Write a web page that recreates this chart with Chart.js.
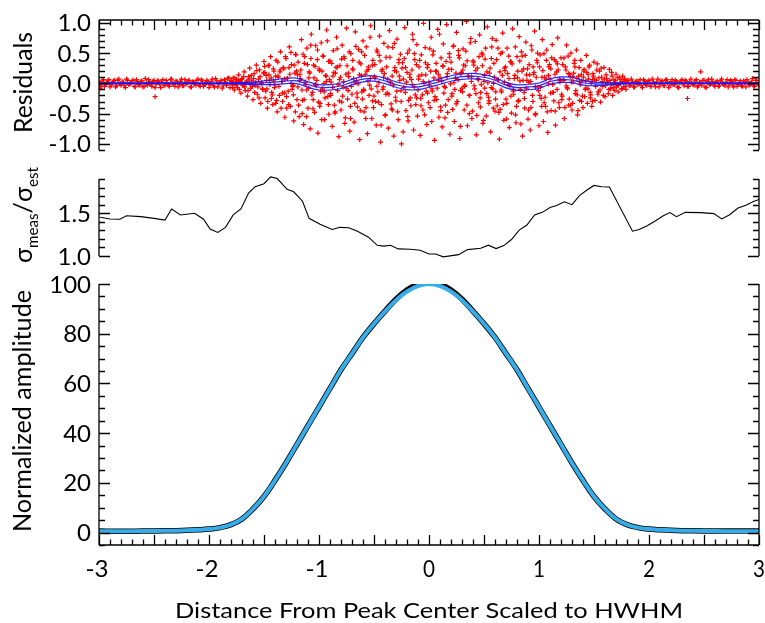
<!DOCTYPE html>
<html>
<head>
<meta charset="utf-8">
<script src="https://cdn.jsdelivr.net/npm/chart.js@4.4.0/dist/chart.umd.min.js"></script>
<style>
html, body { margin: 0; padding: 0; background: #fff; }
#wrap { position: relative; width: 765px; height: 623px; }
#wrap canvas { position: absolute; left: 0; top: 0; }
</style>
</head>
<body>
<div id="wrap">
<canvas id="resid" width="765" height="623"></canvas>
<canvas id="sigma" width="765" height="623"></canvas>
<canvas id="amp" width="765" height="623"></canvas>
</div>
<script>
// tick labels
const xTicks = [-3, -2, -1, 0, 1, 2, 3];
const residTicks = [-1.0, -0.5, 0.0, 0.5, 1.0];
const sigmaTicks = [1.0, 1.5];
const ampTicks = [0, 20, 40, 60, 80, 100];

// residuals (red crosses)
const residPoints = [
  // wings, left
  [-3.00,0.03],[-2.98,-0.05],[-2.96,0.06],[-2.94,-0.02],[-2.92,0.04],[-2.90,-0.06],[-2.88,0.01],[-2.86,0.05],[-2.84,-0.04],[-2.82,0.07],
  [-2.80,-0.03],[-2.78,0.02],[-2.76,-0.07],[-2.74,0.05],[-2.72,-0.01],[-2.70,0.04],[-2.68,-0.05],[-2.66,0.06],[-2.64,-0.02],[-2.62,0.03],
  [-2.60,-0.06],[-2.58,0.08],[-2.56,-0.03],[-2.54,0.02],[-2.52,-0.05],[-2.50,0.05],[-2.48,-0.01],[-2.46,0.04],[-2.44,-0.07],[-2.42,0.06],
  [-2.40,-0.03],[-2.38,0.01],[-2.36,-0.05],[-2.34,0.07],[-2.32,-0.02],[-2.30,0.04],[-2.28,-0.06],[-2.26,0.03],[-2.24,-0.04],[-2.22,0.06],
  [-2.20,-0.01],[-2.18,0.05],[-2.16,-0.06],[-2.14,0.02],[-2.12,-0.03],[-2.10,0.07],[-2.08,-0.05],[-2.06,0.04],[-2.04,-0.02],[-2.02,0.05],
  [-2.00,-0.07],[-1.98,0.03],[-1.96,-0.04],[-1.94,0.08],[-1.92,-0.06],[-1.90,0.02],[-1.88,-0.08],[-1.86,0.06],[-1.84,-0.03],[-1.82,0.09],
  [-2.99,-0.02],[-2.97,0.04],[-2.95,-0.05],[-2.93,0.01],[-2.91,0.06],[-2.89,-0.03],[-2.87,0.03],[-2.85,-0.06],[-2.83,0.05],[-2.81,-0.01],
  [-2.79,0.02],[-2.77,-0.04],[-2.75,0.07],[-2.73,-0.02],[-2.71,0.0],[-2.69,0.05],[-2.67,-0.06],[-2.65,0.03],[-2.63,-0.03],[-2.61,0.04],
  [-2.59,-0.05],[-2.57,0.01],[-2.55,0.06],[-2.53,-0.02],[-2.51,0.03],[-2.49,-0.07],[-2.47,0.04],[-2.45,-0.01],[-2.43,0.02],[-2.41,-0.04],
  [-2.39,0.05],[-2.37,-0.03],[-2.35,0.06],[-2.33,0.0],[-2.31,-0.05],[-2.29,0.03],[-2.27,-0.02],[-2.25,0.07],[-2.23,-0.04],[-2.21,0.01],
  [-2.19,0.04],[-2.17,-0.06],[-2.15,0.02],[-2.13,-0.01],[-2.11,0.05],[-2.09,-0.03],[-2.07,0.06],[-2.05,-0.05],[-2.03,0.0],[-2.01,0.03],
  [-1.99,-0.02],[-1.97,0.07],[-1.95,-0.06],[-1.93,0.04],[-1.91,-0.01],[-1.89,0.05],[-1.87,-0.04],[-1.85,0.02],[-1.83,0.08],[-1.81,-0.07],
  [-2.99,-0.08],[-2.49,-0.22],
  // core, first pass
  [-1.80,0.05],[-1.79,-0.02],[-1.78,0.09],[-1.77,-0.11],[-1.76,0.01],[-1.75,0.06],[-1.74,-0.07],[-1.73,0.14],[-1.72,0.03],[-1.71,-0.16],
  [-1.70,0.08],[-1.69,-0.04],[-1.68,0.19],[-1.67,-0.12],[-1.66,0.02],[-1.65,-0.21],[-1.64,0.11],[-1.63,0.25],[-1.62,-0.08],[-1.61,0.04],
  [-1.60,-0.27],[-1.59,0.16],[-1.58,-0.03],[-1.57,0.3],[-1.56,-0.18],[-1.55,0.07],[-1.54,0.22],[-1.53,-0.33],[-1.52,0.01],[-1.51,-0.1],
  [-1.50,0.36],[-1.49,-0.24],[-1.48,0.13],[-1.47,-0.41],[-1.46,0.29],[-1.45,0.05],[-1.44,0.44],[-1.43,-0.15],[-1.42,-0.35],[-1.41,0.2],
  [-1.40,-0.02],[-1.39,0.38],[-1.38,-0.47],[-1.37,0.1],[-1.36,-0.2],[-1.35,0.52],[-1.34,0.03],[-1.33,-0.3],[-1.32,0.24],[-1.31,-0.56],
  [-1.30,0.41],[-1.29,0.08],[-1.28,-0.13],[-1.27,0.6],[-1.26,-0.38],[-1.25,0.31],[-1.24,-0.05],[-1.23,-0.62],[-1.22,0.17],[-1.21,0.47],
  [-1.20,-0.27],[-1.19,0.35],[-1.18,-0.55],[-1.17,0.08],[-1.16,0.72],[-1.15,-0.28],[-1.14,-0.68],[-1.13,0.44],[-1.12,-0.02],[-1.11,0.58],
  [-1.10,-0.41],[-1.09,0.19],[-1.08,-0.75],[-1.07,0.81],[-1.06,-0.15],[-1.05,0.3],[-1.04,-0.48],[-1.03,0.62],[-1.02,0.05],[-1.01,-0.82],
  [-1.00,0.24],[-0.99,-0.33],[-0.98,0.67],[-0.97,-0.09],[-0.96,0.45],[-0.95,-0.6],[-0.94,0.13],[-0.93,0.88],[-0.92,-0.22],[-0.91,-0.51],
  [-0.90,0.37],[-0.89,0.02],[-0.88,-0.71],[-0.87,0.54],[-0.86,-0.36],[-0.85,0.17],[-0.84,0.76],[-0.83,-0.12],[-0.82,-0.88],[-0.81,0.29],
  [-0.80,-0.44],[-0.79,0.63],[-0.78,-0.06],[-0.77,0.41],[-0.76,-0.57],[-0.75,0.91],[-0.74,-0.26],[-0.73,0.11],[-0.72,-0.79],[-0.71,0.49],
  [-0.70,-0.18],[-0.69,0.22],[-0.68,-0.64],[-0.67,0.85],[-0.66,0.04],[-0.65,-0.39],[-0.64,0.56],[-0.63,-0.93],[-0.62,0.32],[-0.61,-0.14],
  [-0.60,0.7],[-0.59,-0.47],[-0.58,0.15],[-0.57,0.6],[-0.56,-0.83],[-0.55,0.27],[-0.54,-0.03],[-0.53,0.95],[-0.52,-0.58],[-0.51,0.38],
  [-0.50,-0.21],[-0.49,0.09],[-0.48,-0.69],[-0.47,0.52],[-0.46,-0.31],[-0.45,0.78],[-0.44,-0.97],[-0.43,0.2],[-0.42,-0.1],[-0.41,0.66],
  [-0.40,-0.53],[-0.39,0.43],[-0.38,-0.16],[-0.37,-0.74],[-0.36,0.87],[-0.35,0.01],[-0.34,-0.42],[-0.33,0.59],[-0.32,-0.87],[-0.31,0.26],
  [-0.30,-0.29],[-0.29,0.73],[-0.28,-0.6],[-0.27,0.12],[-0.26,0.48],[-0.25,-1.0],[-0.24,0.34],[-0.23,-0.07],[-0.22,0.92],[-0.21,-0.45],
  [-0.20,0.18],[-0.19,-0.62],[-0.18,0.55],[-0.17,-0.24],[-0.16,0.06],[-0.15,0.81],[-0.14,-0.77],[-0.13,0.39],[-0.12,-0.35],[-0.11,0.64],
  [-0.10,-0.11],[-0.09,0.27],[-0.08,-0.86],[-0.07,0.47],[-0.06,-0.19],[-0.05,0.99],[-0.04,-0.52],[-0.03,0.14],[-0.02,-0.68],[-0.01,0.31],
  [0.00,0.02],[0.01,-0.4],[0.02,0.76],[0.03,-0.13],[0.04,0.53],[0.05,-0.94],[0.06,0.2],[0.07,-0.27],[0.08,0.89],[0.09,-0.56],
  [0.10,0.1],[0.11,0.42],[0.12,-0.72],[0.13,0.65],[0.14,-0.05],[0.15,-0.36],[0.16,0.97],[0.17,-0.48],[0.18,0.23],[0.19,-0.84],
  [0.20,0.35],[0.21,-0.17],[0.22,0.61],[0.23,-0.63],[0.24,0.08],[0.25,0.84],[0.26,-0.3],[0.27,0.46],[0.28,-0.91],[0.29,0.16],
  [0.30,-0.08],[0.31,0.57],[0.32,-0.44],[0.33,0.29],[0.34,1.02],[0.35,-0.7],[0.36,0.11],[0.37,-0.2],[0.38,0.74],[0.39,-0.58],
  [0.40,0.37],[0.41,-0.04],[0.42,0.69],[0.43,-0.85],[0.44,0.25],[0.45,-0.32],[0.46,0.8],[0.47,-0.15],[0.48,0.5],[0.49,-0.66],
  [0.50,0.03],[0.51,0.4],[0.52,-0.54],[0.53,0.93],[0.54,-0.23],[0.55,0.17],[0.56,-0.8],[0.57,0.6],[0.58,-0.09],[0.59,0.33],
  [0.60,-0.46],[0.61,0.71],[0.62,-0.37],[0.63,0.06],[0.64,-0.92],[0.65,0.49],[0.66,-0.14],[0.67,0.83],[0.68,-0.61],[0.69,0.21],
  [0.70,-0.26],[0.71,0.58],[0.72,-0.02],[0.73,-0.73],[0.74,0.36],[0.75,-0.49],[0.76,0.9],[0.77,-0.18],[0.78,0.13],[0.79,-0.65],
  [0.80,0.44],[0.81,-0.3],[0.82,0.77],[0.83,-0.1],[0.84,0.52],[0.85,-0.87],[0.86,0.24],[0.87,-0.41],[0.88,0.68],[0.89,0.05],
  [0.90,-0.59],[0.91,0.31],[0.92,-0.77],[0.93,0.62],[0.94,-0.2],[0.95,0.15],[0.96,0.86],[0.97,-0.5],[0.98,0.38],[0.99,-0.06],
  [1.00,-0.7],[1.01,0.47],[1.02,-0.25],[1.03,0.72],[1.04,-0.63],[1.05,0.1],[1.06,-0.38],[1.07,0.55],[1.08,-0.81],[1.09,0.27],
  [1.10,0.07],[1.11,-0.45],[1.12,0.64],[1.13,-0.15],[1.14,0.39],[1.15,-0.69],[1.16,0.19],[1.17,0.75],[1.18,-0.32],[1.19,0.02],
  [1.20,0.42],[1.21,-0.21],[1.22,0.06],[1.23,-0.58],[1.24,0.27],[1.25,0.63],[1.26,-0.09],[1.27,-0.36],[1.28,0.15],[1.29,0.5],
  [1.30,-0.44],[1.31,0.02],[1.32,0.33],[1.33,-0.17],[1.34,0.55],[1.35,-0.52],[1.36,0.12],[1.37,-0.28],[1.38,0.38],[1.39,0.04],
  [1.40,-0.4],[1.41,0.23],[1.42,-0.1],[1.43,0.46],[1.44,-0.33],[1.45,0.07],[1.46,0.3],[1.47,-0.19],[1.48,-0.38],[1.49,0.16],
  [1.50,0.35],[1.51,-0.28],[1.52,0.05],[1.53,0.32],[1.54,-0.14],[1.55,0.2],[1.56,-0.31],[1.57,0.1],[1.58,-0.05],[1.59,0.26],
  [1.60,-0.22],[1.61,0.14],[1.62,0.02],[1.63,-0.17],[1.64,0.23],[1.65,-0.09],[1.66,0.18],[1.67,-0.2],[1.68,0.06],[1.69,-0.12],
  [1.70,0.15],[1.71,-0.03],[1.72,-0.14],[1.73,0.1],[1.74,0.01],[1.75,-0.09],[1.76,0.12],[1.77,-0.06],[1.78,0.07],[1.79,-0.1],
  [1.80,0.04],
  // core, second pass
  [-1.795,0.03],[-1.785,-0.07],[-1.775,0.01],[-1.765,0.09],[-1.755,-0.04],[-1.745,-0.01],[-1.735,0.05],[-1.725,-0.1],[-1.715,0.02],[-1.705,0.06],
  [-1.695,-0.03],[-1.685,0.11],[-1.675,-0.06],[-1.665,0.0],[-1.655,0.04],[-1.645,-0.12],[-1.635,0.07],[-1.625,-0.02],[-1.615,0.13],[-1.605,-0.05],
  [-1.595,0.08],[-1.585,-0.15],[-1.575,0.02],[-1.565,0.21],[-1.555,-0.06],[-1.545,-0.24],[-1.535,0.11],[-1.525,0.0],[-1.515,-0.09],[-1.505,0.17],
  [-1.495,0.28],[-1.485,-0.13],[-1.475,0.05],[-1.465,-0.3],[-1.455,0.14],[-1.445,-0.02],[-1.435,0.09],[-1.425,-0.19],[-1.415,0.24],[-1.405,-0.07],
  [-1.395,0.12],[-1.385,-0.28],[-1.375,0.35],[-1.365,-0.05],[-1.355,0.19],[-1.345,-0.41],[-1.335,0.03],[-1.325,0.26],[-1.315,-0.16],[-1.305,0.44],
  [-1.295,-0.22],[-1.285,0.08],[-1.275,-0.35],[-1.265,0.15],[-1.255,0.51],[-1.245,-0.1],[-1.235,-0.03],[-1.225,0.3],[-1.215,-0.47],[-1.205,0.2],
  [-1.195,0.14],[-1.185,-0.36],[-1.175,0.05],[-1.165,0.22],[-1.155,-0.11],[-1.145,0.48],[-1.135,-0.27],[-1.125,0.02],[-1.115,-0.55],[-1.105,0.31],
  [-1.095,-0.08],[-1.085,0.17],[-1.075,0.63],[-1.065,-0.19],[-1.055,-0.42],[-1.045,0.09],[-1.035,0.28],[-1.025,-0.04],[-1.015,0.39],[-1.005,-0.31],
  [-0.995,0.21],[-0.985,-0.13],[-0.975,-0.6],[-0.965,0.45],[-0.955,0.0],[-0.945,-0.24],[-0.935,0.12],[-0.925,0.7],[-0.915,-0.35],[-0.905,0.06],
  [-0.895,-0.17],[-0.885,0.33],[-0.875,-0.07],[-0.865,0.18],[-0.855,-0.49],[-0.845,0.26],[-0.835,0.57],[-0.825,-0.02],[-0.815,-0.29],[-0.805,0.1],
  [-0.795,0.4],[-0.785,-0.21],[-0.775,0.03],[-0.765,-0.66],[-0.755,0.15],[-0.745,0.29],[-0.735,-0.12],[-0.725,0.52],[-0.715,-0.38],[-0.705,-0.05],
  [-0.695,0.24],[-0.685,0.08],[-0.675,-0.33],[-0.665,0.61],[-0.655,-0.16],[-0.645,-0.01],[-0.635,0.35],[-0.625,-0.45],[-0.615,0.13],[-0.605,-0.26],
  [-0.595,-0.1],[-0.585,0.46],[-0.575,-0.58],[-0.565,0.2],[-0.555,0.04],[-0.545,-0.2],[-0.535,0.76],[-0.525,-0.09],[-0.515,0.3],[-0.505,-0.4],
  [-0.495,0.11],[-0.485,-0.3],[-0.475,0.55],[-0.465,-0.14],[-0.455,0.01],[-0.445,0.37],[-0.435,-0.69],[-0.425,0.23],[-0.415,-0.06],[-0.405,0.16],
  [-0.395,-0.52],[-0.385,0.27],[-0.375,0.07],[-0.365,-0.18],[-0.355,0.43],[-0.345,-0.34],[-0.335,0.12],[-0.325,-0.03],[-0.315,0.66],[-0.305,-0.23],
  [-0.295,0.19],[-0.285,-0.47],[-0.275,0.34],[-0.265,0.05],[-0.255,-0.12],[-0.245,0.25],[-0.235,-0.8],[-0.225,0.41],[-0.215,-0.15],[-0.205,0.02],
  [-0.195,0.5],[-0.185,-0.28],[-0.175,0.1],[-0.165,-0.37],[-0.155,0.22],[-0.145,0.72],[-0.135,-0.06],[-0.125,-0.19],[-0.115,0.31],[-0.105,-0.54],
  [-0.095,0.07],[-0.085,0.38],[-0.075,-0.25],[-0.065,0.14],[-0.055,-0.44],[-0.045,0.0],[-0.035,0.59],[-0.025,-0.13],[-0.015,0.26],[-0.005,-0.32],
  [0.005,-0.04],[0.015,0.2],[0.025,-0.63],[0.035,0.47],[0.045,0.09],[0.055,-0.22],[0.065,0.33],[0.075,-0.08],[0.085,0.15],[0.095,0.81],
  [0.105,-0.39],[0.115,0.04],[0.125,0.28],[0.135,-0.16],[0.145,-0.57],[0.155,0.36],[0.165,0.11],[0.175,-0.27],[0.185,0.49],[0.195,-0.01],
  [0.205,0.23],[0.215,-0.43],[0.225,0.62],[0.235,-0.1],[0.245,0.17],[0.255,-0.3],[0.265,0.06],[0.275,0.42],[0.285,-0.71],[0.295,0.18],
  [0.305,-0.14],[0.315,0.3],[0.325,-0.05],[0.335,0.53],[0.345,-0.36],[0.355,0.12],[0.365,-0.2],[0.375,0.67],[0.385,0.03],[0.395,-0.46],
  [0.405,0.35],[0.415,-0.09],[0.425,0.21],[0.435,-0.53],[0.445,0.08],[0.455,0.44],[0.465,-0.24],[0.475,-0.02],[0.485,0.29],[0.495,-0.61],
  [0.505,0.13],[0.515,0.58],[0.525,-0.17],[0.535,0.01],[0.545,-0.33],[0.555,0.25],[0.565,-0.07],[0.575,0.74],[0.585,-0.41],[0.595,0.1],
  [0.605,-0.26],[0.615,0.39],[0.625,0.06],[0.635,-0.48],[0.645,0.19],[0.655,-0.11],[0.665,0.51],[0.675,-0.35],[0.685,0.02],[0.695,0.27],
  [0.705,-0.59],[0.715,0.16],[0.725,0.45],[0.735,-0.04],[0.745,-0.21],[0.755,0.32],[0.765,-0.13],[0.775,0.08],[0.785,0.6],[0.795,-0.38],
  [0.805,0.09],[0.815,-0.28],[0.825,0.37],[0.835,-0.67],[0.845,0.2],[0.855,0.05],[0.865,-0.15],[0.875,0.46],[0.885,-0.08],[0.895,0.24],
  [0.905,-0.44],[0.915,0.14],[0.925,0.03],[0.935,0.55],[0.945,-0.3],[0.955,0.18],[0.965,-0.52],[0.975,0.1],[0.985,0.34],[0.995,-0.12],
  [1.005,0.27],[1.015,-0.06],[1.025,-0.38],[1.035,0.21],[1.045,0.49],[1.055,-0.23],[1.065,0.07],[1.075,-0.47],[1.085,0.13],[1.095,0.31],
  [1.105,-0.16],[1.115,0.42],[1.125,-0.02],[1.135,-0.29],[1.145,0.15],[1.155,0.36],[1.165,-0.1],[1.175,0.22],[1.185,-0.4],[1.195,0.05],
  [1.205,-0.18],[1.215,0.31],[1.225,0.05],[1.235,-0.4],[1.245,0.22],[1.255,-0.07],[1.265,0.45],[1.275,-0.26],[1.285,0.11],[1.295,0.02],
  [1.305,-0.33],[1.315,0.17],[1.325,0.38],[1.335,-0.12],[1.345,0.08],[1.355,-0.45],[1.365,0.26],[1.375,-0.02],[1.385,0.14],[1.395,-0.21],
  [1.405,0.1],[1.415,-0.22],[1.425,0.04],[1.435,0.18],[1.445,-0.09],[1.455,0.27],[1.465,-0.15],[1.475,0.01],[1.485,-0.3],[1.495,0.12],
  [1.505,0.06],[1.515,-0.05],[1.525,0.22],[1.535,-0.18],[1.545,0.09],[1.555,-0.11],[1.565,0.25],[1.575,0.03],[1.585,-0.2],[1.595,0.07],
  [1.605,-0.04],[1.615,0.08],[1.625,0.02],[1.635,-0.1],[1.645,0.05],[1.655,-0.02],[1.665,0.12],[1.675,-0.07],[1.685,0.01],[1.695,0.04],
  [1.705,-0.06],[1.715,0.09],[1.725,-0.03],[1.735,0.0],[1.745,0.06],[1.755,-0.09],[1.765,0.03],[1.775,0.07],[1.785,-0.05],[1.795,0.02],
  // core, third pass
  [-1.493,0.18],[-1.473,-0.09],[-1.453,0.3],[-1.433,-0.25],[-1.413,0.04],[-1.393,-0.33],[-1.373,0.12],[-1.353,0.22],[-1.333,-0.16],[-1.313,0.07],
  [-1.293,-0.41],[-1.273,0.26],[-1.253,0.0],[-1.233,-0.19],[-1.213,0.48],[-1.193,-0.06],[-1.173,0.15],[-1.153,-0.5],[-1.133,0.33],[-1.113,-0.11],
  [-1.093,0.09],[-1.073,0.41],[-1.053,-0.27],[-1.033,-0.02],[-1.013,0.55],[-0.993,-0.38],[-0.973,0.2],[-0.953,-0.14],[-0.933,0.03],[-0.913,0.36],
  [-0.893,-0.2],[-0.873,0.12],[-0.853,-0.47],[-0.833,0.27],[-0.813,0.06],[-0.793,-0.31],[-0.773,0.44],[-0.753,-0.08],[-0.733,0.17],[-0.713,-0.58],
  [-0.693,0.38],[-0.673,0.01],[-0.653,-0.23],[-0.633,0.14],[-0.613,0.52],[-0.593,-0.12],[-0.573,-0.4],[-0.553,0.23],[-0.533,0.08],[-0.513,-0.29],
  [-0.493,0.31],[-0.473,-0.05],[-0.453,0.46],[-0.433,-0.35],[-0.413,0.1],[-0.393,-0.18],[-0.373,0.6],[-0.353,0.02],[-0.333,-0.44],[-0.313,0.21],
  [-0.293,-0.13],[-0.273,0.39],[-0.253,-0.3],[-0.233,0.07],[-0.213,0.26],[-0.193,-0.55],[-0.173,0.15],[-0.153,-0.02],[-0.133,0.49],[-0.113,-0.24],
  [-0.093,0.12],[-0.073,-0.37],[-0.053,0.03],[-0.033,0.34],[-0.013,-0.16],[0.007,0.57],[0.027,-0.09],[0.047,-0.28],[0.067,0.2],[0.087,0.05],
  [0.107,-0.45],[0.127,0.29],[0.147,-0.07],[0.167,0.16],[0.187,0.43],[0.207,-0.21],[0.227,0.01],[0.247,-0.34],[0.267,0.54],[0.287,-0.12],
  [0.307,0.22],[0.327,-0.03],[0.347,0.37],[0.367,-0.5],[0.387,0.11],[0.407,0.3],[0.427,-0.17],[0.447,0.06],[0.467,-0.39],[0.487,0.47],
  [0.507,-0.08],[0.527,0.19],[0.547,-0.29],[0.567,0.41],[0.587,0.0],[0.607,-0.14],[0.627,0.58],[0.647,-0.43],[0.667,0.13],[0.687,0.25],
  [0.707,-0.33],[0.727,0.08],[0.747,0.35],[0.767,-0.1],[0.787,-0.52],[0.807,0.2],[0.827,0.04],[0.847,0.45],[0.867,-0.25],[0.887,0.14],
  [0.907,0.02],[0.927,-0.4],[0.947,0.27],[0.967,-0.06],[0.987,0.5],[1.007,-0.2],[1.027,0.1],[1.047,-0.32],[1.067,0.38],[1.087,-0.01],
  [1.107,0.24],[1.127,-0.15],[1.147,-0.46],[1.167,0.32],[1.187,0.07],[1.207,-0.27],[1.227,0.42],[1.247,-0.04],[1.267,0.16],[1.287,-0.36],
  [1.307,0.11],[1.327,0.27],[1.347,-0.19],[1.367,0.03],[1.387,-0.3],[1.407,0.2],[1.427,-0.08],[1.447,0.15],[1.467,-0.24],[1.487,0.06],
  // wings, right
  [1.82,-0.04],[1.84,0.07],[1.86,-0.06],[1.88,0.03],[1.90,-0.02],[1.92,0.06],[1.94,-0.07],[1.96,0.04],[1.98,-0.03],[2.00,0.05],
  [2.02,-0.05],[2.04,0.02],[2.06,-0.06],[2.08,0.07],[2.10,-0.01],[2.12,0.04],[2.14,-0.04],[2.16,0.06],[2.18,-0.07],[2.20,0.03],
  [2.22,-0.02],[2.24,0.05],[2.26,-0.06],[2.28,0.01],[2.30,0.06],[2.32,-0.04],[2.34,0.03],[2.36,-0.05],[2.38,0.07],[2.40,-0.02],
  [2.42,0.04],[2.44,-0.06],[2.46,0.02],[2.48,-0.03],[2.50,0.05],[2.52,-0.07],[2.54,0.06],[2.56,-0.01],[2.58,0.03],[2.60,-0.05],
  [2.62,0.04],[2.64,-0.04],[2.66,0.07],[2.68,-0.02],[2.70,0.02],[2.72,-0.06],[2.74,0.05],[2.76,-0.03],[2.78,0.06],[2.80,-0.05],
  [2.82,0.01],[2.84,-0.04],[2.86,0.04],[2.88,-0.06],[2.90,0.03],[2.92,-0.02],[2.94,0.08],[2.96,-0.05],[2.98,0.05],[3.00,-0.03],
  [1.81,0.05],[1.83,-0.03],[1.85,0.02],[1.87,-0.06],[1.89,0.04],[1.91,0.0],[1.93,-0.04],[1.95,0.06],[1.97,-0.02],[1.99,0.03],
  [2.01,-0.05],[2.03,0.07],[2.05,-0.01],[2.07,0.02],[2.09,-0.06],[2.11,0.04],[2.13,-0.03],[2.15,0.05],[2.17,0.01],[2.19,-0.04],
  [2.21,0.06],[2.23,-0.02],[2.25,0.03],[2.27,-0.07],[2.29,0.04],[2.31,-0.01],[2.33,0.05],[2.35,-0.05],[2.37,0.02],[2.39,0.0],
  [2.41,-0.03],[2.43,0.06],[2.45,-0.04],[2.47,0.01],[2.49,0.05],[2.51,-0.06],[2.53,0.03],[2.55,-0.02],[2.57,0.07],[2.59,-0.03],
  [2.61,0.02],[2.63,-0.05],[2.65,0.04],[2.67,0.0],[2.69,-0.04],[2.71,0.06],[2.73,-0.01],[2.75,0.03],[2.77,-0.06],[2.79,0.05],
  [2.81,-0.02],[2.83,0.04],[2.85,-0.05],[2.87,0.01],[2.89,0.06],[2.91,-0.03],[2.93,0.02],[2.95,-0.04],[2.97,0.05],[2.99,-0.01],
  [2.35,-0.25],[2.47,0.19]
];

// fitted residual model (blue) and its envelope
const bandX     = [-3, -1.8, -1.6, -1.5, -1.4, -1.3, -1.2, -1.1, -1.0, -0.9, -0.8, -0.7, -0.6, -0.5, -0.4, -0.3, -0.2, -0.1, 0, 0.1, 0.2, 0.3, 0.4, 0.5, 0.6, 0.7, 0.8, 0.9, 1.0, 1.1, 1.2, 1.3, 1.4, 1.5, 1.6, 1.8, 3];
const bandMid   = [0, 0, 0, 0.01, 0.02, 0.04, 0.04, -0.02, -0.065, -0.065, -0.04, 0.02, 0.07, 0.08, 0.04, -0.02, -0.06, -0.06, -0.02, 0.03, 0.08, 0.11, 0.12, 0.1, 0.05, -0.03, -0.07, -0.06, -0.04, 0.03, 0.06, 0.055, 0.01, -0.01, -0.01, 0, 0];
const bandUpper = [0.008, 0.008, 0.02, 0.04, 0.06, 0.085, 0.085, 0.025, -0.02, -0.02, 0.005, 0.065, 0.115, 0.125, 0.085, 0.025, -0.015, -0.015, 0.025, 0.075, 0.125, 0.155, 0.165, 0.145, 0.095, 0.015, -0.025, -0.015, 0.005, 0.075, 0.105, 0.1, 0.05, 0.02, 0.01, 0.008, 0.008];
const bandLower = [-0.008, -0.008, -0.02, -0.02, -0.02, -0.005, -0.005, -0.065, -0.11, -0.11, -0.085, -0.025, 0.025, 0.035, -0.005, -0.065, -0.105, -0.105, -0.065, -0.015, 0.035, 0.065, 0.075, 0.055, 0.005, -0.075, -0.115, -0.105, -0.085, -0.015, 0.015, 0.01, -0.03, -0.04, -0.03, -0.008, -0.008];

// sigma_meas / sigma_est
const sigmaX = [-2.99, -2.9, -2.81, -2.75, -2.62, -2.5, -2.4, -2.34, -2.26, -2.13, -2.05, -1.99, -1.92, -1.85, -1.78, -1.71, -1.64, -1.58, -1.5, -1.44, -1.38, -1.29, -1.23, -1.15, -1.09, -0.99, -0.88, -0.81, -0.73, -0.65, -0.55, -0.47, -0.41, -0.35, -0.28, -0.17, -0.08, 0.0, 0.06, 0.13, 0.27, 0.35, 0.47, 0.54, 0.61, 0.68, 0.75, 0.82, 0.89, 0.96, 1.03, 1.1, 1.16, 1.23, 1.3, 1.37, 1.44, 1.5, 1.57, 1.64, 1.85, 1.91, 1.98, 2.06, 2.13, 2.19, 2.25, 2.33, 2.47, 2.59, 2.66, 2.73, 2.81, 2.88, 2.95, 3.0];
const sigmaY = [1.453, 1.433, 1.43, 1.47, 1.46, 1.44, 1.42, 1.55, 1.48, 1.5, 1.43, 1.315, 1.275, 1.335, 1.48, 1.55, 1.735, 1.81, 1.845, 1.925, 1.905, 1.78, 1.75, 1.64, 1.44, 1.37, 1.31, 1.335, 1.33, 1.29, 1.22, 1.125, 1.115, 1.126, 1.083, 1.079, 1.067, 1.024, 1.024, 0.99, 1.016, 1.075, 1.09, 1.126, 1.087, 1.122, 1.193, 1.303, 1.362, 1.48, 1.51, 1.566, 1.59, 1.633, 1.6, 1.708, 1.775, 1.825, 1.81, 1.806, 1.29, 1.31, 1.35, 1.413, 1.47, 1.507, 1.46, 1.51, 1.507, 1.495, 1.433, 1.48, 1.56, 1.594, 1.637, 1.66];

// normalized amplitude: fitted profile (light blue) and measured (black)
const ampX     = [-3, -2.8, -2.6, -2.4, -2.2, -2.1, -2.0, -1.9, -1.8, -1.7, -1.6, -1.5, -1.4, -1.3, -1.2, -1.1, -1.0, -0.9, -0.8, -0.7, -0.6, -0.5, -0.4, -0.3, -0.2, -0.1, 0, 0.1, 0.2, 0.3, 0.4, 0.5, 0.6, 0.7, 0.8, 0.9, 1.0, 1.1, 1.2, 1.3, 1.4, 1.5, 1.6, 1.7, 1.8, 1.9, 2.0, 2.1, 2.2, 2.4, 2.6, 2.8, 3];
const ampModel = [0.5, 0.5, 0.6, 0.7, 0.9, 1.1, 1.4, 2.0, 3.2, 5.5, 9.5, 14.5, 21, 28, 35.5, 43, 50.5, 58, 65.5, 72, 78.5, 84, 89, 93.5, 97, 99.2, 100, 99.2, 97, 93.5, 89, 84, 78.5, 72, 65.5, 58, 50.5, 43, 35.5, 28, 21, 14.5, 9.5, 5.5, 3.2, 2.0, 1.4, 1.1, 0.9, 0.7, 0.6, 0.5, 0.5];
const ampData  = [0.6, 0.5, 0.6, 0.7, 0.9, 1.1, 1.4, 2.0, 3.2, 5.5, 9.5, 14.5, 21, 28, 35.5, 43, 50.5, 58, 65.5, 72, 78.5, 84, 89.1, 93.9, 97.6, 99.9, 100.7, 99.9, 97.6, 93.9, 89.1, 84, 78.5, 72, 65.5, 58, 50.5, 43, 35.5, 28, 21, 14.5, 9.5, 5.5, 3.2, 2.0, 1.4, 1.1, 0.9, 0.7, 0.6, 0.6, 0.6];

const FONT = '"Lato", "DejaVu Sans", sans-serif';

function drawText(ctx, str, x, y, size, width, rotate, align) {
  ctx.save();
  ctx.font = size + 'px ' + FONT;
  ctx.translate(x, y);
  if (rotate) ctx.rotate(-Math.PI / 2);
  if (width) ctx.scale(width / ctx.measureText(str).width, 1);
  ctx.textAlign = align || 'center';
  ctx.textBaseline = 'alphabetic';
  ctx.fillStyle = '#000';
  ctx.fillText(str, 0, 0);
  ctx.restore();
}

// axis setup for each panel
const panels = {
  resid: { top: true, bottom: false, yMajor: 0.5, yMinor: 0.1, labels: residTicks, dec: 1 },
  sigma: { top: false, bottom: false, yMajor: 0.5, yMinor: 0.1, labels: sigmaTicks, dec: 1 },
  amp:   { top: false, bottom: true, yMajor: 20, yMinor: 5, labels: ampTicks, dec: 0 }
};

const axesPlugin = {
  id: 'idlAxes',
  afterDatasetsDraw(chart) {
    const p = panels[chart.canvas.id];
    const ctx = chart.ctx, a = chart.chartArea;
    const xs = chart.scales.x, ys = chart.scales.y;
    ctx.save();
    ctx.strokeStyle = '#000';
    ctx.lineWidth = 1.3;
    ctx.beginPath();
    ctx.moveTo(a.left, a.top); ctx.lineTo(a.left, a.bottom);
    ctx.moveTo(a.right, a.top); ctx.lineTo(a.right, a.bottom);
    if (p.top) { ctx.moveTo(a.left, a.top); ctx.lineTo(a.right, a.top); }
    if (p.bottom) { ctx.moveTo(a.left, a.bottom); ctx.lineTo(a.right, a.bottom); }
    for (let k = Math.ceil(ys.min / p.yMinor - 1e-6); k * p.yMinor <= ys.max + 1e-6; k++) {
      const v = k * p.yMinor;
      const major = Math.abs(v / p.yMajor - Math.round(v / p.yMajor)) < 1e-6;
      const len = major ? 11 : 6;
      const py = Math.round(ys.getPixelForValue(v)) + 0.5;
      ctx.moveTo(a.left, py); ctx.lineTo(a.left + len, py);
      ctx.moveTo(a.right, py); ctx.lineTo(a.right - len, py);
    }
    if (p.top || p.bottom) {
      for (let k = -30; k <= 30; k++) {
        const len = k % 5 === 0 ? 10 : 5.5;
        const px = Math.round(xs.getPixelForValue(k / 10)) + 0.5;
        if (p.top) { ctx.moveTo(px, a.top); ctx.lineTo(px, a.top + len); }
        if (p.bottom) { ctx.moveTo(px, a.bottom); ctx.lineTo(px, a.bottom - len); }
      }
    }
    ctx.stroke();
    ctx.restore();

    p.labels.forEach(v => {
      drawText(ctx, v.toFixed(p.dec), a.left - 8, ys.getPixelForValue(v) + 8.5, 24, 0, false, 'right');
    });
    if (p.bottom) {
      xTicks.forEach(v => {
        const s = String(v);
        drawText(ctx, s, xs.getPixelForValue(v) - (v < 0 ? 2 : 0), 577, 24, (v < 0 ? 23 : 12), false);
      });
      drawText(ctx, 'Distance From Peak Center Scaled to HWHM', 429, 618, 22, 508, false);
    }
  }
};

function baseOptions(yMin, yMax, pad) {
  return {
    responsive: false,
    animation: false,
    devicePixelRatio: 1,
    layout: { padding: pad },
    plugins: { legend: { display: false }, tooltip: { enabled: false } },
    scales: {
      x: { type: 'linear', min: -3, max: 3, display: false },
      y: { type: 'linear', min: yMin, max: yMax, display: false }
    }
  };
}

const toPts = (xs, ys) => xs.map((x, i) => ({ x: x, y: ys[i] }));
const BLUE = 'rgba(20,20,255,0.9)';

// residual panel
new Chart(document.getElementById('resid'), {
  type: 'scatter',
  data: {
    datasets: [
      { data: toPts(bandX, bandUpper), showLine: true, pointRadius: 0, borderColor: BLUE, borderWidth: 1.2, tension: 0.4, order: 0 },
      { data: toPts(bandX, bandMid), showLine: true, pointRadius: 0, borderColor: BLUE, borderWidth: 1.2, tension: 0.4, order: 0 },
      { data: toPts(bandX, bandLower), showLine: true, pointRadius: 0, borderColor: BLUE, borderWidth: 1.2, tension: 0.4, order: 0 },
      { data: residPoints.map(p => ({ x: p[0], y: p[1] })), pointStyle: 'cross', pointRadius: 2.5, borderColor: '#ff0000', borderWidth: 1.2, backgroundColor: '#ff0000', order: 1 }
    ]
  },
  options: baseOptions(-1.1, 1.045, { left: 99, right: 6, top: 20, bottom: 473 }),
  plugins: [axesPlugin, {
    id: 'residTitle',
    afterDraw(chart) { drawText(chart.ctx, 'Residuals', 32, 82.5, 25, 101, true); }
  }]
});

// sigma ratio panel
new Chart(document.getElementById('sigma'), {
  type: 'scatter',
  data: {
    datasets: [
      { data: toPts(sigmaX, sigmaY), showLine: true, pointRadius: 0, borderColor: '#000', borderWidth: 1.1, tension: 0, clip: 4 }
    ]
  },
  options: baseOptions(1.0, 1.9, { left: 99, right: 6, top: 179, bottom: 367 }),
  plugins: [axesPlugin, {
    id: 'sigmaTitle',
    afterDraw(chart) {
      const ctx = chart.ctx;
      const parts = [['σ', 25, 0], ['meas', 15, 6], ['/', 25, 0], ['σ', 25, 0], ['est', 15, 6]];
      ctx.save();
      ctx.translate(32, 215);
      ctx.rotate(-Math.PI / 2);
      let total = 0;
      parts.forEach(pt => { ctx.font = pt[1] + 'px ' + FONT; total += ctx.measureText(pt[0]).width; });
      ctx.scale(96 / total, 1);
      ctx.fillStyle = '#000';
      ctx.textBaseline = 'alphabetic';
      let cx = -total / 2;
      parts.forEach(pt => {
        ctx.font = pt[1] + 'px ' + FONT;
        ctx.fillText(pt[0], cx, pt[2]);
        cx += ctx.measureText(pt[0]).width;
      });
      ctx.restore();
    }
  }]
});

// amplitude panel
new Chart(document.getElementById('amp'), {
  type: 'scatter',
  data: {
    datasets: [
      { data: toPts(ampX, ampModel), showLine: true, pointRadius: 0, borderColor: '#36ade9', borderWidth: 4, tension: 0.4, order: 0 },
      { data: toPts(ampX, ampData), showLine: true, pointRadius: 0, borderColor: '#000', borderWidth: 5.5, tension: 0.4, order: 1 }
    ]
  },
  options: baseOptions(-5, 100, { left: 99, right: 6, top: 284, bottom: 78 }),
  plugins: [axesPlugin, {
    id: 'ampTitle',
    afterDraw(chart) { drawText(chart.ctx, 'Normalized amplitude', 31, 411, 25, 242, true); }
  }]
});
</script>
</body>
</html>
